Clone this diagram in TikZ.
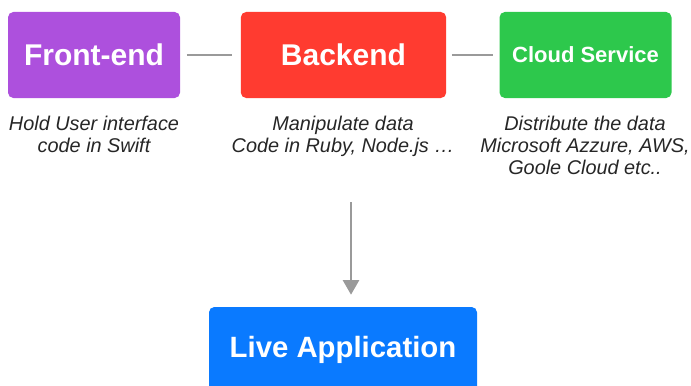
\documentclass[tikz,border=0pt]{standalone}
\usepackage{fontspec}
\setmainfont{Liberation Sans}
\usetikzlibrary{arrows.meta}

\definecolor{fepurple}{HTML}{AD50DD}
\definecolor{bered}{HTML}{FF3B30}
\definecolor{csgreen}{HTML}{2DC84C}
\definecolor{appblue}{HTML}{0A7AFF}
\definecolor{linegray}{HTML}{9A9A9A}

\tikzset{
  box/.style={rectangle, rounded corners=4pt, text=white, font=\bfseries,
    minimum width=129pt, minimum height=64.5pt, inner sep=0pt},
  note/.style={align=center, font=\itshape\fontsize{14.9pt}{16.5pt}\selectfont, text=black!85},
  conn/.style={linegray, line width=2pt}
}

\begin{document}
\begin{tikzpicture}[x=0.75pt, y=-0.75pt, >={Triangle[length=11pt,width=12pt]}]
  \clip (0,0) rectangle (691,385);
  \useasboundingbox (0,0) rectangle (691,385);

  \node (fe) at (94,55) [box, fill=fepurple, font=\bfseries\fontsize{22.5pt}{26pt}\selectfont] {Front-end};
  \node (be) at (343.5,55) [box, fill=bered, minimum width=154pt, font=\bfseries\fontsize{22.5pt}{26pt}\selectfont] {Backend};
  \node (cs) at (585.5,55) [box, fill=csgreen, font=\bfseries\fontsize{16.5pt}{20pt}\selectfont] {Cloud Service};
  \node (app) at (343,350) [box, fill=appblue, minimum width=201pt, font=\bfseries\fontsize{22pt}{26pt}\selectfont] {Live Application};

  %% descriptions
  \node (fetext) at (94,134) [note] {Hold User interface\\code in Swift};
  \node (betext) at (343,136.5) [note] {Manipulate data\\Code in Ruby, Node.js \dots};
  \node (cstext) at (585,145) [note] {Distribute the data\\Microsoft Azzure, AWS,\\Goole Cloud etc..};

  \draw[conn, shorten <=5pt, shorten >=6.5pt] (fe) -- (be);
  \draw[conn, shorten <=4pt, shorten >=4.5pt] (be) -- (cs);

  \coordinate (top) at (351,202); % arrow start
  \draw[conn, ->, shorten >=9pt] (top) -- (top |- app.north);
\end{tikzpicture}
\end{document}
